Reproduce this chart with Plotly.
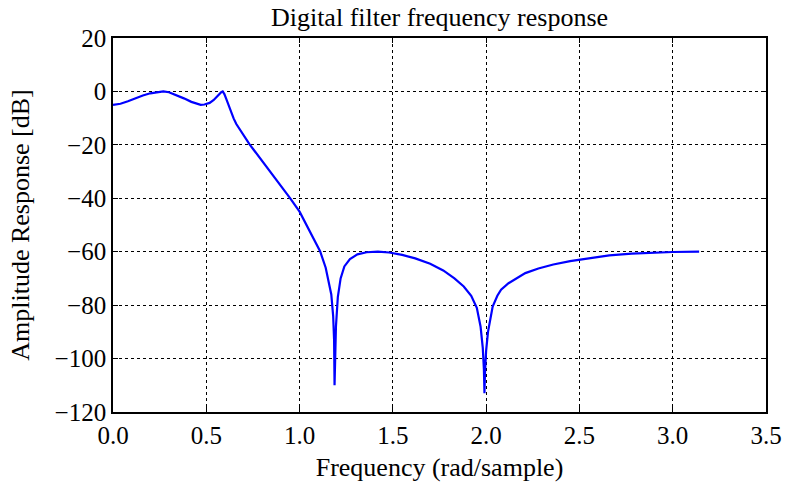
import plotly.graph_objects as go

freq = [0.0, 0.04, 0.08, 0.12, 0.16, 0.20, 0.24, 0.27, 0.30, 0.34, 0.38, 0.42, 0.45, 0.47,
        0.49, 0.518, 0.54, 0.554, 0.57, 0.58, 0.588, 0.597, 0.607, 0.62, 0.634, 0.647, 0.661,
        0.688, 0.71, 0.732, 0.76, 0.786, 0.82, 0.857, 0.90, 0.95, 1.00, 1.05, 1.08, 1.11,
        1.14, 1.16, 1.17, 1.18, 1.185, 1.1875, 1.19, 1.195, 1.205, 1.22, 1.24, 1.27, 1.31,
        1.36, 1.42, 1.48, 1.55, 1.62, 1.70, 1.77, 1.83, 1.88, 1.92, 1.95, 1.97, 1.982, 1.988,
        1.991, 1.994, 2.0, 2.01, 2.035, 2.06, 2.08, 2.12, 2.16, 2.21, 2.28, 2.36, 2.45, 2.55,
        2.66, 2.78, 2.90, 3.00, 3.1416]
amp_db = [-5.0, -4.6, -3.7, -2.6, -1.5, -0.7, -0.15, 0.0, -0.3, -1.3, -2.6, -3.9, -4.7, -5.0,
          -4.9, -4.3, -3.2, -2.1, -0.9, -0.3, 0.0, -1.0, -2.8, -5.3, -7.8, -10.2, -12.2,
          -15.2, -17.7, -19.8, -22.4, -24.8, -28.0, -31.3, -35.2, -40.0, -45.0, -51.5, -55.5, -59.8,
          -66.0, -72.0, -76.0, -84.0, -93.0, -110.0, -95.0, -88.0, -77.0, -70.0, -65.5, -62.8, -61.0,
          -60.2, -60.0, -60.3, -61.2, -62.5, -64.5, -67.0, -70.0, -73.0, -76.5, -81.0, -88.0, -96.0, -104.0,
          -113.0, -105.0, -97.0, -90.0, -80.5, -76.5, -74.2, -71.8, -70.0, -68.0, -66.3, -64.8, -63.5, -62.4,
          -61.4, -60.7, -60.3, -60.1, -60.0]

x_ticks = [0.0, 0.5, 1.0, 1.5, 2.0, 2.5, 3.0, 3.5]
y_ticks = [20, 0, -20, -40, -60, -80, -100, -120]

font = "Liberation Serif, Times New Roman, serif"

W, H = 785, 484
L, R, T, B = 113, 19, 38, 72

fig = go.Figure()
fig.add_trace(go.Scatter(x=freq, y=amp_db, mode="lines",
                         line=dict(color="#0000ff", width=2.2), showlegend=False))

axis_common = dict(
    showline=True, linecolor="black", linewidth=1.6, mirror="ticks",
    ticks="inside", ticklen=5, tickcolor="black", tickwidth=1,
    showgrid=True, gridcolor="black", gridwidth=1, griddash="dot",
    zeroline=False, tickfont=dict(family=font, size=25, color="black"),
)

fig.update_xaxes(range=[0, 3.5], tickvals=x_ticks, tickformat=".1f",
                 title=dict(text="Frequency (rad/sample)", font=dict(family=font, size=26, color="black"), standoff=10),
                 **axis_common)
fig.update_yaxes(range=[-120, 20], tickvals=y_ticks,
                 title=dict(text="Amplitude Response [dB]", font=dict(family=font, size=26, color="black"), standoff=17),
                 **axis_common)

fig.update_layout(
    width=W, height=H,
    margin=dict(l=L, r=R, t=T, b=B, autoexpand=False),
    paper_bgcolor="white", plot_bgcolor="white",
    title=dict(text="Digital filter frequency response", x=(L + (W - R)) / 2 / W, xanchor="center",
               y=1 - 17 / H, yanchor="middle", yref="container",
               font=dict(family=font, size=26, color="black")),
)

fig.write_html("out.html", config={"displayModeBar": False},
               post_script="document.body.style.margin='0';document.body.style.overflow='hidden';")
